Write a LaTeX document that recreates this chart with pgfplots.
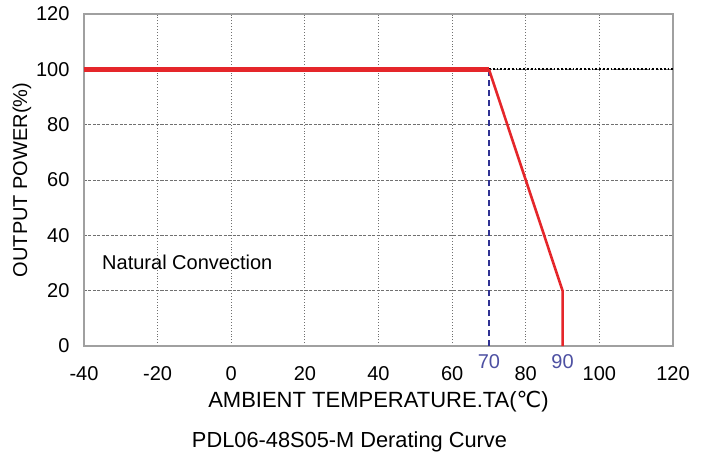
\documentclass[border=0pt]{standalone}
\usepackage{fontspec}
\setmainfont{Liberation Sans}
\newfontfamily\dejavu{DejaVu Sans}
\usepackage{pgfplots}
\pgfplotsset{compat=1.18}
\definecolor{dcred}{HTML}{E5262A}
\definecolor{dcblue}{HTML}{2E3192}
\definecolor{dcframe}{HTML}{A0A0A0}
\definecolor{dcgrid}{HTML}{707070}
\begin{document}
\begin{tikzpicture}
\begin{axis}[
  name=ax,
  scale only axis,
  width=589pt, height=332pt,
  xmin=-40, xmax=120, ymin=0, ymax=120,
  xtick={-40,-20,...,120}, ytick={0,20,...,120},
  major tick length=0pt,
  axis line style={draw=dcframe, line width=1.4pt},
  grid=major,
  x grid style={dcgrid, line width=0.9pt, dotted},
  y grid style={dcgrid, line width=0.9pt, dash pattern=on 3pt off 1.5pt},
  /pgf/number format/assume math mode=true,
  tick label style={font=\fontsize{20}{24}\selectfont},
  xticklabel style={yshift=-17pt},
  yticklabel style={xshift=-11pt},
  xlabel={AMBIENT TEMPERATURE.TA({\dejavu ℃})},
  xlabel style={font=\fontsize{22}{24}\selectfont, at={(axis description cs:0.5,0)}, anchor=center, yshift=-56pt},
  ylabel={OUTPUT POWER(\%)},
  ylabel style={font=\fontsize{20}{24}\selectfont, at={(axis description cs:0,0.5)}, anchor=center, yshift=62pt},
  clip=false,
]
% dotted reference at 100 %
\addplot[black, line width=1.8pt, dotted] coordinates {(70,100) (120,100)};
% derating knee marker
\addplot[dcblue, line width=2.4pt, dash pattern=on 6pt off 4pt] coordinates {(70,0) (70,100)};
% derating curve
\addplot[dcred, line width=5pt] coordinates {(-40,100) (70,100)};
\addplot[dcred, line width=2.6pt] coordinates {(70,100) (90,20) (90,0)};
\node[font=\fontsize{20}{24}\selectfont, text=dcblue!85, anchor=center] at (axis cs:70,0) [yshift=-16pt] {70};
\node[font=\fontsize{20}{24}\selectfont, text=dcblue!85, anchor=center] at (axis cs:90,0) [yshift=-16pt] {90};
\node[font=\fontsize{20}{24}\selectfont, anchor=west, inner sep=0pt] at (axis cs:-35.1,30.4) {Natural Convection};
\end{axis}
\node[font=\fontsize{21.8}{24}\selectfont] at ([xshift=-29pt,yshift=-96pt]ax.south) {PDL06-48S05-M Derating Curve};
\path ([xshift=-84pt,yshift=-110pt]ax.south west) rectangle ++(705pt,456pt);
\end{tikzpicture}
\end{document}
